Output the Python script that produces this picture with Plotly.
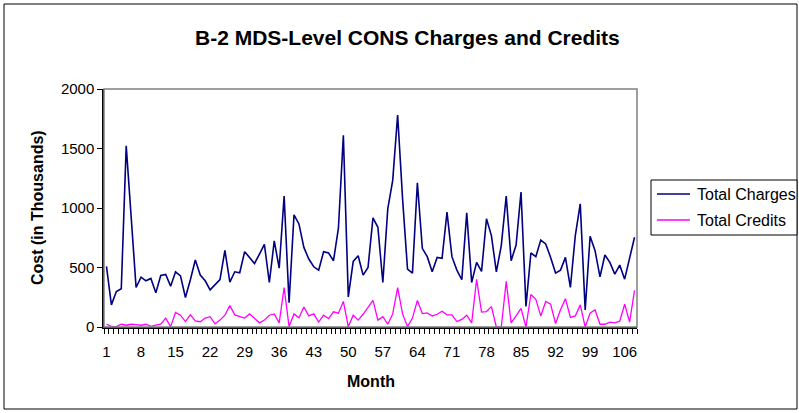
import plotly.graph_objects as go

months = list(range(1, 109))

total_charges = [
    509, 186, 298, 321, 1522, 900, 332, 419, 388, 408,
    287, 433, 442, 343, 464, 430, 248, 397, 563, 436,
    388, 312, 354, 399, 644, 377, 464, 456, 633, 585,
    534, 613, 695, 374, 723, 495, 1100, 205, 942, 866,
    669, 571, 506, 478, 633, 622, 557, 830, 1612, 253,
    551, 599, 436, 501, 917, 838, 374, 993, 1232, 1781,
    1077, 487, 453, 1212, 661, 591, 464, 585, 577, 965,
    591, 478, 397, 959, 374, 543, 467, 909, 768, 464,
    684, 1100, 557, 689, 1134, 172, 622, 591, 731, 698,
    585, 453, 478, 585, 332, 768, 1035, 143, 762, 641,
    422, 605, 543, 444, 520, 402, 591, 754,
]

total_credits = [
    23, 6, 3, 23, 15, 23, 20, 15, 23, 6,
    15, 23, 75, 3, 122, 99, 46, 102, 52, 44,
    75, 87, 26, 58, 99, 180, 102, 87, 75, 110,
    75, 35, 58, 99, 110, 35, 331, 3, 110, 78,
    168, 93, 110, 41, 99, 70, 128, 116, 215, 3,
    99, 58, 107, 168, 223, 58, 87, 23, 110, 331,
    110, 3, 75, 223, 113, 119, 93, 107, 133, 102,
    102, 46, 64, 99, 35, 400, 125, 130, 171, 0,
    0, 383, 35, 93, 157, 0, 273, 232, 93, 215,
    191, 29, 145, 238, 81, 93, 186, 0, 116, 145,
    23, 23, 41, 35, 49, 191, 41, 307,
]

tick_labels = list(range(1, 107, 7))

series_names = ["Total Charges", "Total Credits"]
series_colors = ["#000080", "#FF00FF"]

W, H = 799, 413
L, R, T, B = 104, 637, 89, 327  # plot area in pixels


def px(x):
    return (x - L) / (R - L)


def py(y):
    return (B - y) / (B - T)


fig = go.Figure()
for name, color, vals, wd in zip(series_names, series_colors,
                                 [total_charges, total_credits], [1.6, 1.3]):
    fig.add_trace(go.Scatter(
        x=months, y=vals, mode="lines", name=name,
        line=dict(color=color, width=wd), showlegend=False,
    ))

font_family = "Liberation Sans, Arial, sans-serif"

# legend drawn as a framed box with line samples and text labels
legend_shapes = [
    dict(type="rect", xref="paper", yref="paper",
         x0=px(651), x1=px(797), y0=py(235), y1=py(180),
         line=dict(color="black", width=1), fillcolor="white", layer="above"),
]
legend_annots = []
for k, (name, color) in enumerate(zip(series_names, series_colors)):
    yy = 194 + 26 * k
    legend_shapes.append(dict(
        type="line", xref="paper", yref="paper",
        x0=px(657), x1=px(690), y0=py(yy), y1=py(yy),
        line=dict(color=color, width=1.6 if k == 0 else 1.3), layer="above"))
    legend_annots.append(dict(
        text=name, x=px(695), y=py(yy), xref="paper", yref="paper",
        showarrow=False, xanchor="left", yanchor="middle",
        font=dict(size=16, family=font_family, color="black")))

fig.update_layout(
    width=W, height=H,
    margin=dict(l=L, r=W - R, t=T, b=H - B, pad=0),
    paper_bgcolor="white", plot_bgcolor="white",
    font=dict(family=font_family, size=15, color="black"),
    showlegend=False,
    annotations=[
        dict(text="<b>B-2 MDS-Level CONS Charges and Credits</b>",
             x=px(407), y=py(37), xref="paper", yref="paper",
             showarrow=False, font=dict(size=21, family=font_family),
             xanchor="center", yanchor="middle"),
        dict(text="<b>Cost (in Thousands)</b>",
             x=px(37), y=py(208), xref="paper", yref="paper",
             showarrow=False, textangle=-90, font=dict(size=16, family=font_family),
             xanchor="center", yanchor="middle"),
        dict(text="<b>Month</b>",
             x=px(371), y=py(381), xref="paper", yref="paper",
             showarrow=False, font=dict(size=16, family=font_family),
             xanchor="center", yanchor="middle"),
    ] + legend_annots,
    shapes=[
        # outer chart frame
        dict(type="rect", xref="paper", yref="paper",
             x0=px(4), x1=px(797), y0=py(409), y1=py(4),
             line=dict(color="black", width=1), layer="below"),
        # plot area border
        dict(type="rect", xref="paper", yref="paper",
             x0=0, x1=1, y0=0, y1=1,
             line=dict(color="#808080", width=1.5), layer="above"),
    ] + legend_shapes,
)

fig.update_xaxes(
    range=[0.5, 108.5],
    tickmode="array", tickvals=tick_labels, ticktext=[str(v) for v in tick_labels],
    ticks="", showgrid=False, zeroline=False,
    showline=True, linecolor="black", linewidth=1.5,
    tickfont=dict(size=15),
    ticklabelstandoff=10,
    minor=dict(ticks="outside", tick0=0.5, dtick=1, ticklen=5,
               tickcolor="black", tickwidth=1, showgrid=False),
)
fig.update_yaxes(
    range=[0, 2000], tickmode="linear", tick0=0, dtick=500,
    ticks="outside", ticklen=5, tickcolor="black",
    showgrid=False, zeroline=False,
    showline=True, linecolor="black", linewidth=1.5,
    tickfont=dict(size=15),
)

fig.write_html(
    "out.html",
    config={"displayModeBar": False},
    post_script="document.body.style.margin='0';document.body.style.overflow='hidden';",
)
